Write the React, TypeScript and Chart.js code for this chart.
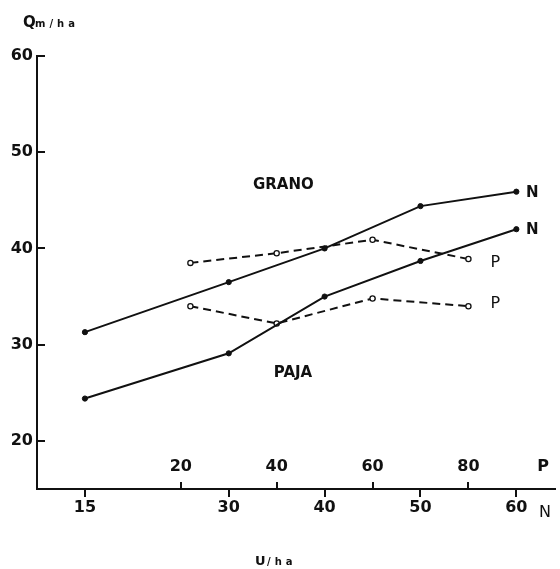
import React, { useEffect, useRef } from 'react';
import { Chart, registerables } from 'chart.js';

Chart.register(...registerables);

// ---- data ----
const nDoses = [15, 30, 40, 50, 60];
const granoN = [31.3, 36.5, 40.0, 44.4, 45.9];
const pajaN = [24.4, 29.1, 35.0, 38.7, 42.0];
const pDoses = [22, 40, 60, 80];
const granoP = [38.5, 39.5, 40.9, 38.9];
const pajaP = [34.0, 32.2, 34.8, 34.0];

const yTicks = [20, 30, 40, 50, 60];
const nTicks = [15, 30, 40, 50, 60];
const pTicks = [20, 40, 60, 80];

const INK = '#111111';
const FONT = '"DejaVu Sans", "Liberation Sans", sans-serif';

const toPts = (xs: number[], ys: number[]) => xs.map((x, i) => ({ x, y: ys[i] }));

const overlay = {
  id: 'overlay',
  afterDraw(chart: any) {
    const ctx = chart.ctx as CanvasRenderingContext2D;
    const y = chart.scales.y;
    const xN = chart.scales.xN;
    const xP = chart.scales.xP;
    const { left, bottom } = chart.chartArea;
    ctx.save();
    ctx.strokeStyle = INK;
    ctx.fillStyle = INK;
    ctx.lineWidth = 2;
    // inward y ticks
    yTicks.forEach((v) => {
      const py = Math.round(y.getPixelForValue(v));
      ctx.beginPath();
      ctx.moveTo(left, py);
      ctx.lineTo(left + 8, py);
      ctx.stroke();
    });
    // P scale ticks (upward) and labels
    pTicks.forEach((v) => {
      const px = Math.round(xP.getPixelForValue(v));
      ctx.beginPath();
      ctx.moveTo(px, bottom);
      ctx.lineTo(px, bottom - 7);
      ctx.stroke();
    });
    ctx.font = `bold 16px ${FONT}`;
    ctx.textAlign = 'center';
    ctx.textBaseline = 'alphabetic';
    pTicks.forEach((v) => ctx.fillText(String(v), xP.getPixelForValue(v), bottom - 18));

    // axis name letters at right
    ctx.fillText('P', 543, bottom - 18);
    ctx.font = `16px ${FONT}`;
    ctx.fillText('N', 545, bottom + 28);

    // series end labels
    ctx.font = `bold 15px ${FONT}`;
    ctx.textBaseline = 'middle';
    const lastN = nDoses[nDoses.length - 1];
    ctx.fillText('N', xN.getPixelForValue(lastN) + 16, y.getPixelForValue(granoN[granoN.length - 1]) + 1);
    ctx.fillText('N', xN.getPixelForValue(lastN) + 16, y.getPixelForValue(pajaN[pajaN.length - 1]) + 1);
    ctx.font = `16px ${FONT}`;
    const lastP = pDoses[pDoses.length - 1];
    ctx.fillText('P', xP.getPixelForValue(lastP) + 27, y.getPixelForValue(granoP[granoP.length - 1]) + 4);
    ctx.fillText('P', xP.getPixelForValue(lastP) + 27, y.getPixelForValue(pajaP[pajaP.length - 1]) - 2);

    // group labels
    ctx.font = `bold 15px ${FONT}`;
    ctx.fillText('GRANO', xN.getPixelForValue(35.7), y.getPixelForValue(46.6));
    ctx.fillText('PAJA', xN.getPixelForValue(36.7), y.getPixelForValue(27.05));

    // unit labels
    ctx.textAlign = 'left';
    ctx.textBaseline = 'alphabetic';
    ctx.font = `bold 15px ${FONT}`;
    ctx.fillText('Q', 23, 27);
    ctx.font = `bold 10px ${FONT}`;
    (ctx as any).letterSpacing = '4px';
    ctx.fillText('m/ha', 35, 27);
    (ctx as any).letterSpacing = '0px';
    ctx.font = `bold 13px ${FONT}`;
    ctx.fillText('U', 255, 565);
    ctx.font = `bold 10px ${FONT}`;
    (ctx as any).letterSpacing = '4px';
    ctx.fillText('/ha', 267, 565);
    (ctx as any).letterSpacing = '0px';
    ctx.restore();
  },
};

export default function App() {
  const ref = useRef<HTMLCanvasElement | null>(null);
  useEffect(() => {
    if (!ref.current) return;
    const solid = {
      borderColor: INK,
      borderWidth: 2,
      pointRadius: 2.6,
      pointBackgroundColor: INK,
      pointBorderColor: INK,
      pointBorderWidth: 1,
      showLine: true,
      tension: 0,
      fill: false,
    };
    const dashed = {
      borderColor: INK,
      borderWidth: 2,
      borderDash: [8, 5],
      pointRadius: 2.6,
      pointBackgroundColor: '#ffffff',
      pointBorderColor: INK,
      pointBorderWidth: 1.3,
      showLine: true,
      tension: 0,
      fill: false,
    };
    const chart = new Chart(ref.current, {
      type: 'scatter',
      data: {
        datasets: [
          { label: 'Grano N', data: toPts(nDoses, granoN), xAxisID: 'xN', ...solid },
          { label: 'Paja N', data: toPts(nDoses, pajaN), xAxisID: 'xN', ...solid },
          { label: 'Grano P', data: toPts(pDoses, granoP), xAxisID: 'xP', ...dashed },
          { label: 'Paja P', data: toPts(pDoses, pajaP), xAxisID: 'xP', ...dashed },
        ] as any,
      },
      options: {
        animation: false,
        responsive: true,
        maintainAspectRatio: false,
        layout: { padding: { top: 56, left: 0, right: 0, bottom: 0 } },
        plugins: { legend: { display: false }, tooltip: { enabled: false } },
        scales: {
          xN: {
            type: 'linear',
            position: 'bottom',
            min: 10,
            max: 64,
            afterBuildTicks: (s: any) => {
              s.ticks = nTicks.map((v) => ({ value: v }));
            },
            afterFit: (s: any) => {
              s.height = 80;
            },
            ticks: {
              color: INK,
              font: { family: FONT, size: 16, weight: 'bold' },
              padding: 1,
              maxRotation: 0,
              autoSkip: false,
            },
            grid: { drawOnChartArea: false, drawTicks: true, tickLength: 8, color: INK, lineWidth: 2 },
            border: { display: true, color: INK, width: 2 },
          },
          xP: {
            type: 'linear',
            display: false,
            min: -10,
            max: 98,
          },
          y: {
            type: 'linear',
            min: 15,
            max: 60,
            afterBuildTicks: (s: any) => {
              s.ticks = yTicks.map((v) => ({ value: v }));
            },
            afterFit: (s: any) => {
              s.width = 37;
            },
            ticks: {
              color: INK,
              font: { family: FONT, size: 16, weight: 'bold' },
              padding: 4,
            },
            grid: { display: true, drawOnChartArea: false, drawTicks: false },
            border: { display: true, color: INK, width: 2 },
          },
        },
      } as any,
      plugins: [overlay],
    });
    return () => chart.destroy();
  }, []);
  return (
    <div style={{ position: 'absolute', left: 0, top: 0, width: 560, height: 569, background: '#fff' }}>
      <canvas ref={ref} />
    </div>
  );
}
